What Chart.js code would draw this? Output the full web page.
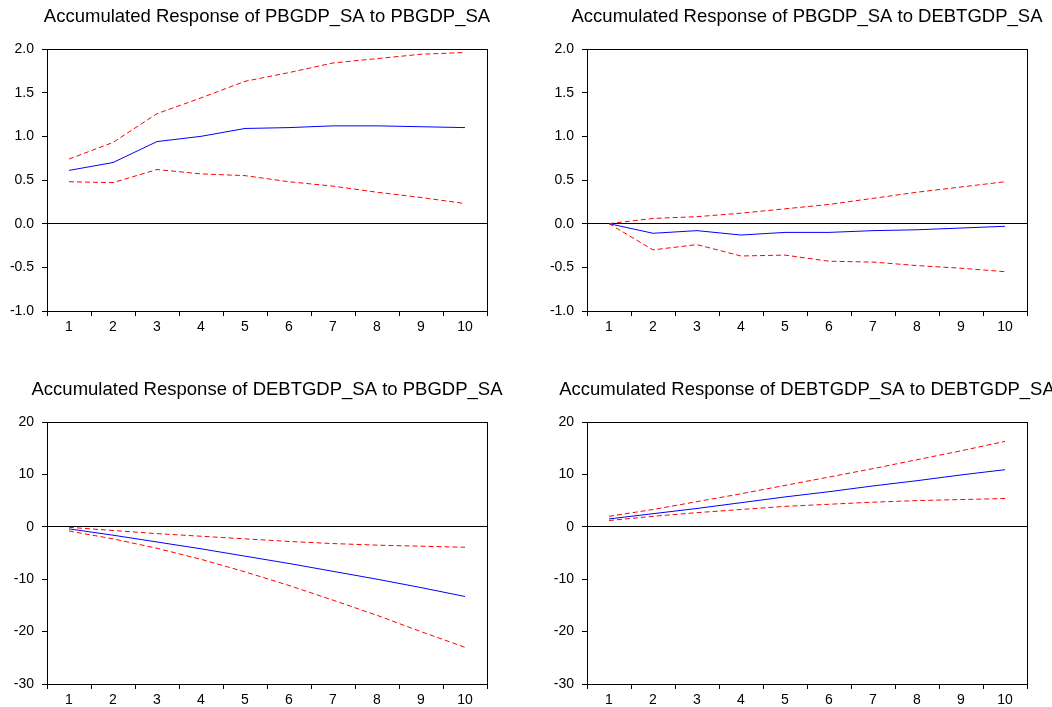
<!DOCTYPE html>
<html>
<head>
<meta charset="utf-8">
<title>Accumulated Responses</title>
<script src="https://cdn.jsdelivr.net/npm/chart.js@4.4.1/dist/chart.umd.min.js"></script>
<style>
    html, body { margin: 0; padding: 0; background: #fff; overflow: hidden; }
    body { width: 1052px; height: 707px; position: relative; }
    .panel { position: absolute; width: 526px; height: 355px; }
</style>
</head>
<body>
<div class="panel" style="left:0;top:0"><canvas id="c1" width="526" height="355"></canvas></div>
<div class="panel" style="left:540px;top:0"><canvas id="c2" width="526" height="355"></canvas></div>
<div class="panel" style="left:0;top:373px"><canvas id="c3" width="526" height="355"></canvas></div>
<div class="panel" style="left:540px;top:373px"><canvas id="c4" width="526" height="355"></canvas></div>
<script>
// Periodos (eje x)
const periodos = ['1', '2', '3', '4', '5', '6', '7', '8', '9', '10'];

// PBGDP_SA -> PBGDP_SA
const pbPbSup = [0.74, 0.93, 1.26, 1.44, 1.63, 1.73, 1.84, 1.89, 1.94, 1.96];
const pbPbMed = [0.61, 0.70, 0.94, 1.00, 1.09, 1.10, 1.12, 1.12, 1.11, 1.10];
const pbPbInf = [0.48, 0.47, 0.62, 0.57, 0.55, 0.48, 0.43, 0.36, 0.30, 0.23];

// PBGDP_SA -> DEBTGDP_SA
const pbDebtSup = [0.00, 0.06, 0.08, 0.12, 0.17, 0.22, 0.29, 0.36, 0.42, 0.48];
const pbDebtMed = [0.00, -0.11, -0.08, -0.13, -0.10, -0.10, -0.08, -0.07, -0.05, -0.03];
const pbDebtInf = [0.00, -0.30, -0.24, -0.37, -0.36, -0.43, -0.44, -0.48, -0.51, -0.55];

// DEBTGDP_SA -> PBGDP_SA
const debtPbSup = [-0.1, -0.7, -1.3, -1.8, -2.3, -2.8, -3.2, -3.5, -3.7, -3.9];
const debtPbMed = [-0.4, -1.6, -2.9, -4.2, -5.6, -7.0, -8.5, -10.0, -11.6, -13.3];
const debtPbInf = [-0.8, -2.3, -4.1, -6.2, -8.6, -11.2, -14.0, -16.9, -20.0, -23.0];

// DEBTGDP_SA -> DEBTGDP_SA
const debtDebtSup = [2.0, 3.3, 4.8, 6.3, 7.9, 9.5, 11.1, 12.8, 14.5, 16.3];
const debtDebtMed = [1.5, 2.5, 3.5, 4.6, 5.7, 6.7, 7.8, 8.8, 9.9, 10.9];
const debtDebtInf = [1.2, 2.0, 2.7, 3.3, 3.9, 4.3, 4.7, 5.0, 5.2, 5.4];

const FUENTE = "'Liberation Sans', Arial, sans-serif";
Chart.defaults.color = '#000';
Chart.defaults.font.family = FUENTE;

// marco negro alrededor del area del grafico + titulo centrado sobre el area
const marcoPlugin = {
    id: 'marco',
    afterDatasetsDraw(chart) {
        const a = chart.chartArea;
        const ctx = chart.ctx;
        ctx.save();
        ctx.strokeStyle = '#000';
        ctx.lineWidth = 1;
        ctx.strokeRect(Math.round(a.left) + 0.5, Math.round(a.top) + 0.5,
            Math.round(a.right - a.left), Math.round(a.bottom - a.top));
        ctx.restore();
    },
    afterDraw(chart, args, opts) {
        const a = chart.chartArea;
        const ctx = chart.ctx;
        ctx.save();
        ctx.fillStyle = '#000';
        ctx.font = '18.5px ' + FUENTE;
        ctx.textAlign = 'center';
        ctx.textBaseline = 'alphabetic';
        ctx.fillText(opts.texto, (a.left + a.right) / 2, a.top - 27.5);
        ctx.restore();
    }
};

function linea(datos, color, discontinua) {
    return {
        data: datos,
        borderColor: color,
        borderWidth: 1,
        borderDash: discontinua ? [5, 3] : [],
        pointRadius: 0,
        fill: false,
        tension: 0
    };
}

function crearGrafico(id, titulo, sup, med, inf, yMin, yMax, paso, decimales) {
    return new Chart(document.getElementById(id), {
        type: 'line',
        data: {
            labels: periodos,
            datasets: [
                linea(sup, '#ff0000', true),
                linea(inf, '#ff0000', true),
                linea(med, '#0000ff', false)
            ]
        },
        options: {
            responsive: false,
            animation: false,
            layout: { padding: { left: 0, right: 39, top: 49, bottom: 14 } },
            plugins: {
                legend: { display: false },
                tooltip: { enabled: false },
                title: { display: false },
                marco: { texto: titulo }
            },
            scales: {
                x: {
                    type: 'category',
                    offset: true,
                    afterFit: (s) => { s.height = 30; },
                    border: { display: false },
                    grid: {
                        offset: true,
                        drawOnChartArea: false,
                        drawTicks: true,
                        tickLength: 5,
                        tickColor: '#000',
                        color: '#000'
                    },
                    ticks: {
                        autoSkip: false,
                        maxRotation: 0,
                        padding: 3,
                        color: '#000',
                        font: { family: FUENTE, size: 14 }
                    }
                },
                y: {
                    min: yMin,
                    max: yMax,
                    afterFit: (s) => { s.width = 47; },
                    border: { display: false },
                    grid: {
                        drawTicks: true,
                        tickLength: 5,
                        tickColor: '#000',
                        lineWidth: 1,
                        color: (ctx) => ctx.tick && ctx.tick.value === 0 ? '#000' : 'rgba(0,0,0,0)'
                    },
                    ticks: {
                        stepSize: paso,
                        padding: 8,
                        color: '#000',
                        font: { family: FUENTE, size: 14 },
                        callback: (v) => Number(v).toFixed(decimales)
                    }
                }
            }
        },
        plugins: [marcoPlugin]
    });
}

crearGrafico('c1', 'Accumulated Response of PBGDP_SA to PBGDP_SA',
    pbPbSup, pbPbMed, pbPbInf, -1, 2, 0.5, 1);
crearGrafico('c2', 'Accumulated Response of PBGDP_SA to DEBTGDP_SA',
    pbDebtSup, pbDebtMed, pbDebtInf, -1, 2, 0.5, 1);
crearGrafico('c3', 'Accumulated Response of DEBTGDP_SA to PBGDP_SA',
    debtPbSup, debtPbMed, debtPbInf, -30, 20, 10, 0);
crearGrafico('c4', 'Accumulated Response of DEBTGDP_SA to DEBTGDP_SA',
    debtDebtSup, debtDebtMed, debtDebtInf, -30, 20, 10, 0);
</script>
</body>
</html>
